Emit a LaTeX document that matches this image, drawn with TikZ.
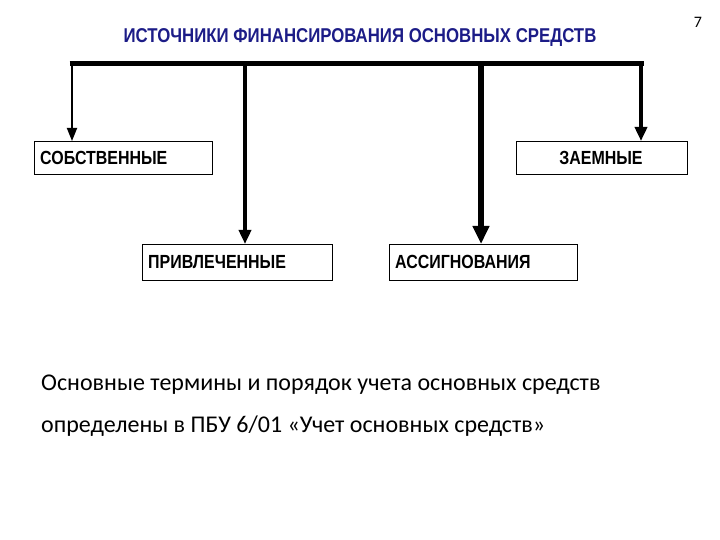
\documentclass[tikz,border=0pt]{standalone}
\usepackage{fontspec}
\setmainfont{Carlito}
\newfontfamily\narrowbold[FakeStretch=0.84]{Liberation Sans Bold}
\usetikzlibrary{arrows.meta}
\definecolor{titleblue}{RGB}{28,28,135}
\tikzset{
  catbox/.style={draw=black,line width=1.3pt,fill=white,minimum height=33pt,inner sep=0pt,anchor=north west},
  catlabel/.style={font=\narrowbold\fontsize{19}{21}\selectfont,inner sep=0pt},
  bar/.style={line width=5pt}
}
\begin{document}
\begin{tikzpicture}[x=1pt,y=-1pt]
\useasboundingbox (0,0) rectangle (720,540);
\node[font=\narrowbold\fontsize{20}{22}\selectfont,text=titleblue,inner sep=0pt] (title) at (360,38) {ИСТОЧНИКИ ФИНАНСИРОВАНИЯ ОСНОВНЫХ СРЕДСТВ};
\node[font=\fontsize{16}{18}\selectfont,inner sep=0pt] (num) at (698,22) {7};
% boxes
\node[catbox,minimum width=178pt] (sob) at (34,141) {};
\node[catlabel,anchor=west] (sobt) at (40,157.5) {СОБСТВЕННЫЕ};
\node[catbox,minimum width=171pt] (zaem) at (516,141) {};
\node[catlabel] (zaemt) at (601,157.5) {ЗАЕМНЫЕ};
\node[catbox,minimum width=190pt,minimum height=36pt] (priv) at (142,244) {};
\node[catlabel,anchor=west] (privt) at (148,262) {ПРИВЛЕЧЕННЫЕ};
\node[catbox,minimum width=188pt,minimum height=36pt] (assig) at (389,244) {};
\node[catlabel,anchor=west] (assigt) at (395,262) {АССИГНОВАНИЯ};
% bar
\coordinate (b1) at (72,64);
\coordinate (b2) at (245,64);
\coordinate (b3) at (481,64);
\coordinate (b4) at (641,64);
\draw[bar] (69.5,64) -- (643.5,64);
\draw[line width=1.8pt,-{Triangle[length=13pt,width=10pt]}] (b1) -- (b1 |- sob.north);
\draw[line width=4pt,-{Triangle[length=14pt,width=12pt]}] (b2) -- (b2 |- priv.north);
\draw[line width=6pt,-{Triangle[length=18pt,width=16pt]}] (b3) -- (b3 |- assig.north);
\draw[line width=4pt,-{Triangle[length=14pt,width=12pt]}] (b4) -- (b4 |- zaem.north);
% text
\node[font=\fontsize{24}{27}\selectfont,anchor=west,inner sep=0pt] (t1) at (41,385) {Основные термины и порядок учета основных средств};
\node[font=\fontsize{24}{27}\selectfont,anchor=west,inner sep=0pt] (t2) at (41,426) {определены в ПБУ 6/01 «Учет основных средств»};
\end{tikzpicture}
\end{document}
